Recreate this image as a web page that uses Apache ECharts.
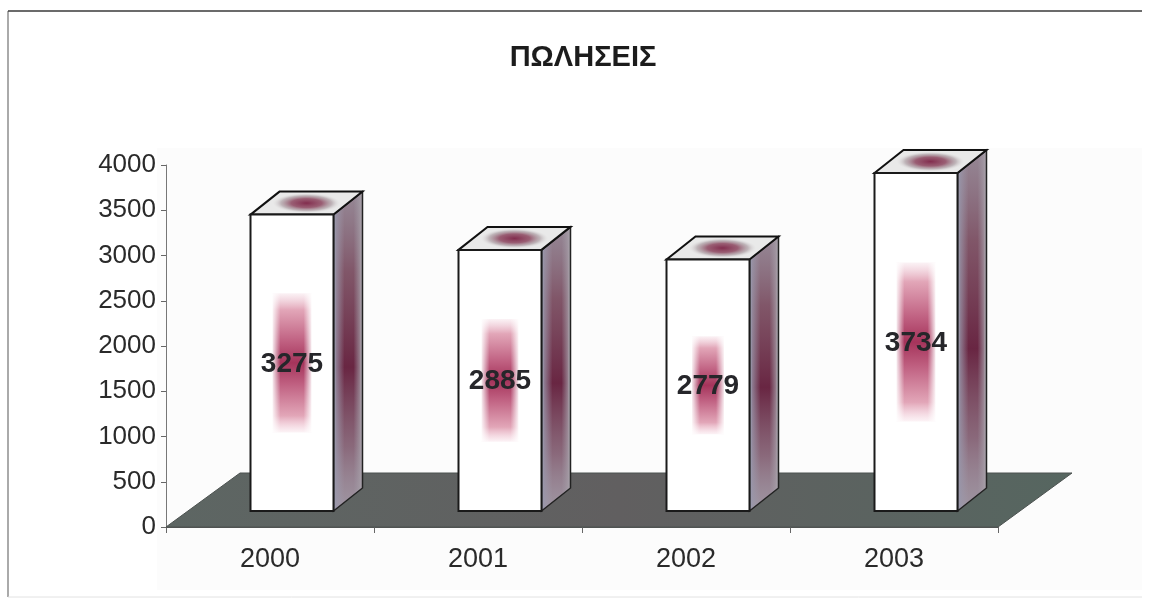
<!DOCTYPE html>
<html>
<head>
<meta charset="utf-8">
<style>html,body{margin:0;padding:0;background:#fff}#c{width:1150px;height:601px}</style>
<script src="https://cdn.jsdelivr.net/npm/echarts@6/dist/echarts.min.js"></script>
</head>
<body>
<div id="c"></div>
<script>
const titleText = 'ΠΩΛΗΣΕΙΣ';
const categories = ['2000', '2001', '2002', '2003'];
const sales = [3275, 2885, 2779, 3734];
const yTicks = { min: 0, max: 4000, interval: 500 };

const FONT = '"Liberation Sans", Arial, sans-serif';
const FLOOR_DX = 74, FLOOR_DY = 54;
const BAR_OFF_X = 22, BAR_OFF_Y = 16, BAR_W = 83, BAR_DX = 29, BAR_DY = 23;
const STRIPE_RATIO = [0.47, 0.47, 0.39, 0.47];
const STRIPE_W = [39, 37, 32, 39];

function v(stops){return {type:'linear',x:0,y:0,x2:0,y2:1,colorStops:stops};}
function h(stops){return {type:'linear',x:0,y:0,x2:1,y2:0,colorStops:stops};}

function renderFloor(params, api){
  const cs = params.coordSys;
  const l = cs.x, r = cs.x + cs.width, b = cs.y + cs.height;
  return {type:'polygon', silent:true,
    shape:{points:[[l,b],[l+FLOOR_DX,b-FLOOR_DY],[r+FLOOR_DX,b-FLOOR_DY],[r,b]]},
    style:{fill:h([{offset:0,color:'#5d6663'},{offset:.5,color:'#615f60'},{offset:1,color:'#566660'}]),stroke:'#4c5250',lineWidth:1}};
}

function renderBar(params, api){
  const i = api.value(0), val = api.value(1);
  const top = api.coord([i, val]), base = api.coord([i, 0]);
  const x0 = base[0] + BAR_OFF_X - BAR_W/2, x1 = x0 + BAR_W;
  const yT = top[1] - BAR_OFF_Y, yB = base[1] - BAR_OFF_Y;
  const barH = yB - yT, midY = (yT + yB)/2, midX = (x0 + x1)/2;
  const sh = barH * STRIPE_RATIO[i], sw = STRIPE_W[i];
  const sx = midX - sw/2, sy = midY - sh/2;
  const side = [[x1,yT],[x1+BAR_DX,yT-BAR_DY],[x1+BAR_DX,yB-BAR_DY],[x1,yB]];
  const topFace = [[x0,yT],[x0+BAR_DX,yT-BAR_DY],[x1+BAR_DX,yT-BAR_DY],[x1,yT]];
  const sideBase = '#a09aa6';
  const inner = [[x1+2,yT],[x1+BAR_DX-2,yT-BAR_DY],[x1+BAR_DX-2,yB-BAR_DY],[x1+2,yB]];
  const leftFade = [[x1,yT],[x1+11,yT-9],[x1+11,yB-9],[x1,yB]];
  const rightFade = [[x1+BAR_DX-9,yT-16],[x1+BAR_DX,yT-BAR_DY],[x1+BAR_DX,yB-BAR_DY],[x1+BAR_DX-9,yB-16]];
  return {type:'group', silent:true, children:[
    {type:'polygon',shape:{points:side},style:{fill:sideBase}},
    {type:'polygon',shape:{points:inner},
      style:{fill:v([{offset:0,color:'rgba(120,80,100,0.25)'},{offset:.25,color:'rgba(112,50,72,0.65)'},{offset:.55,color:'rgba(100,28,58,0.92)'},{offset:.8,color:'rgba(120,65,88,0.55)'},{offset:1,color:'rgba(150,125,140,0.2)'}])}},
    {type:'polygon',shape:{points:leftFade},style:{fill:h([{offset:0,color:'#9797ac'},{offset:1,color:'rgba(160,154,170,0)'}])}},
    {type:'polygon',shape:{points:rightFade},style:{fill:h([{offset:0,color:'rgba(160,154,166,0)'},{offset:1,color:'#a8a0a8'}])}},
    {type:'polygon',shape:{points:side},style:{fill:'none',stroke:'#222',lineWidth:1.5}},
    {type:'polygon',shape:{points:topFace},style:{fill:'#e9e9e9',stroke:'#111',lineWidth:2}},
    {type:'circle',x:(x0+x1+BAR_DX)/2,y:yT-BAR_DY/2,scaleX:3.4,shape:{cx:0,cy:0,r:10},
      style:{fill:{type:'radial',x:.5,y:.5,r:.5,colorStops:[{offset:0,color:'rgba(130,45,78,1)'},{offset:.45,color:'rgba(140,70,95,.85)'},{offset:.75,color:'rgba(150,130,138,.5)'},{offset:1,color:'rgba(220,220,220,0)'}]}}},
    {type:'rect',shape:{x:x0,y:yT,width:BAR_W,height:barH},style:{fill:'#ffffff',stroke:'#1a1a1a',lineWidth:2}},
    {type:'rect',shape:{x:sx,y:sy,width:sw,height:sh},style:{fill:v([{offset:0,color:'rgba(235,190,205,0.2)'},{offset:.12,color:'#e2a6b8'},{offset:.35,color:'#bf5f80'},{offset:.5,color:'#a5345b'},{offset:.65,color:'#bf5f80'},{offset:.88,color:'#e2a6b8'},{offset:1,color:'rgba(240,195,210,0.2)'}])}},
    {type:'rect',shape:{x:sx-1,y:sy,width:9,height:sh},style:{fill:h([{offset:0,color:'#fff'},{offset:1,color:'rgba(255,255,255,0)'}])}},
    {type:'rect',shape:{x:sx+sw-8,y:sy,width:9,height:sh},style:{fill:h([{offset:0,color:'rgba(255,255,255,0)'},{offset:1,color:'#fff'}])}},
    {type:'text',style:{text:String(val),x:midX,y:midY+1,align:'center',verticalAlign:'middle',font:'bold 28px '+FONT,fill:'#26262a'}}
  ]};
}

const chart = echarts.init(document.getElementById('c'), null, {renderer:'canvas'});
chart.setOption({
  animation:false,
  backgroundColor:'#ffffff',
  title:{text:titleText,left:578,top:38,textAlign:'center',textStyle:{fontFamily:FONT,fontWeight:'bold',fontSize:29,color:'#1c1c1c'}},
  grid:{left:166,right:152,top:165,bottom:74,containLabel:false},
  xAxis:{type:'category',data:categories,boundaryGap:true,
    axisLine:{show:true,lineStyle:{color:'#555',width:1}},
    axisTick:{show:true,alignWithLabel:false,length:6,lineStyle:{color:'#666'}},
    axisLabel:{fontFamily:FONT,fontSize:27,color:'#2a2a2a',margin:19}},
  yAxis:{type:'value',min:yTicks.min,max:yTicks.max,interval:yTicks.interval,
    splitLine:{show:false},
    axisLine:{show:true,lineStyle:{color:'#777',width:1}},
    axisTick:{show:true,length:5,lineStyle:{color:'#666'}},
    axisLabel:{fontFamily:FONT,fontSize:26,color:'#2a2a2a',margin:10,formatter:(val)=>String(val)}},
  graphic:[
    {type:'rect',z:-10,silent:true,shape:{x:157,y:148,width:985,height:442},style:{fill:'#fcfcfc'}},
    {type:'line',z:-5,silent:true,shape:{x1:8,y1:11,x2:8,y2:597},style:{stroke:'#aaaaaa',lineWidth:2}},
    {type:'line',z:-5,silent:true,shape:{x1:8,y1:11,x2:1142,y2:11},style:{stroke:'#3a3a3a',lineWidth:1.5}},
    {type:'line',z:-5,silent:true,shape:{x1:8,y1:597,x2:1142,y2:597},style:{stroke:'#e2e2e2',lineWidth:1}}
  ],
  series:[
    {name:'floor',type:'custom',z:1,renderItem:renderFloor,data:[[0,0]],encode:{x:0,y:1},silent:true},
    {name:'ΠΩΛΗΣΕΙΣ',type:'custom',z:2,renderItem:renderBar,data:categories.map((c,i)=>[i,sales[i]]),encode:{x:0,y:1},silent:true}
  ]
});
</script>
</body>
</html>
